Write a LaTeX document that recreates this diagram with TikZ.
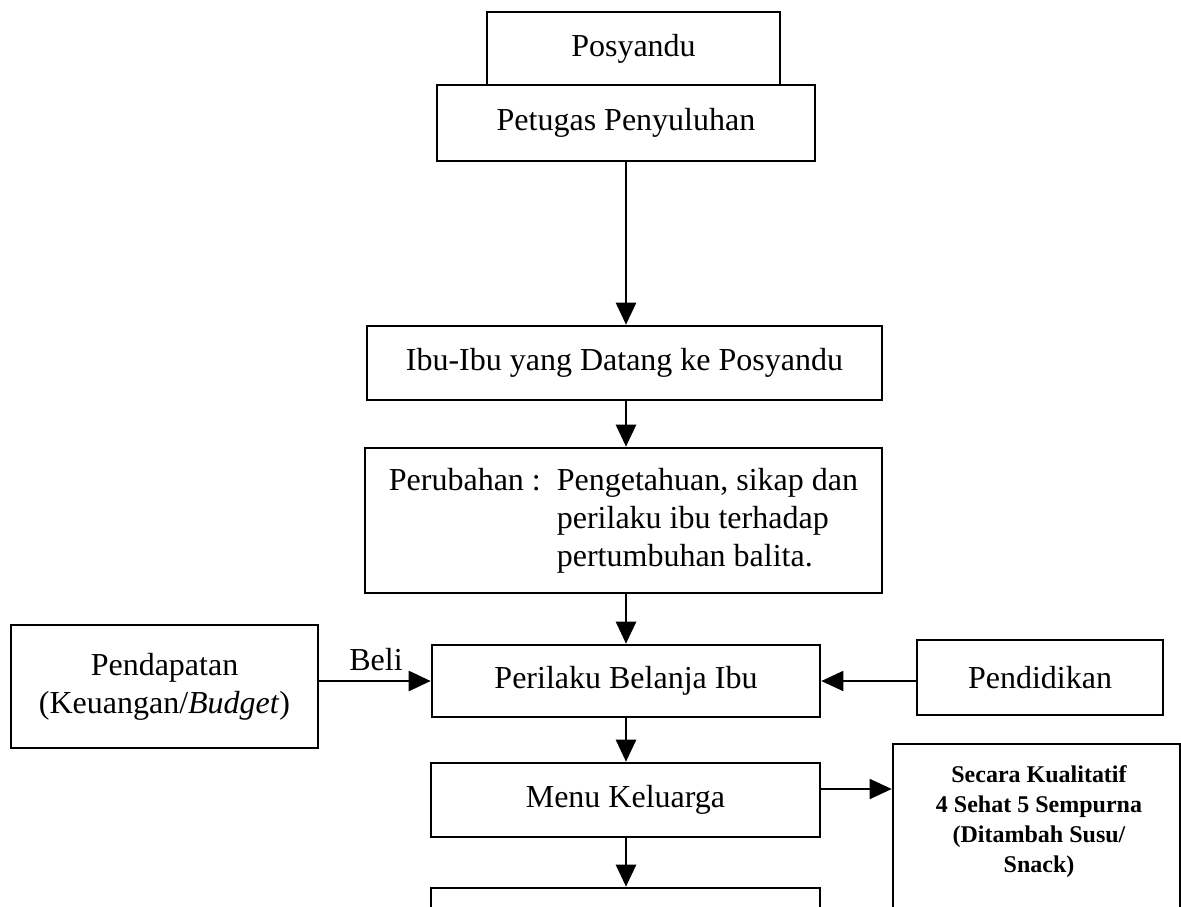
\documentclass[tikz,border=0pt]{standalone}
\usepackage{fontspec}
\setmainfont{Liberation Serif}
\usetikzlibrary{arrows.meta}
\begin{document}
\begin{tikzpicture}[x=1pt,y=-1pt,
  box/.style={draw, line width=2.6pt, inner sep=0pt, align=center, font=\fontsize{32}{38}\selectfont},
  lbl/.style={inner sep=0pt, align=center, font=\fontsize{32}{38}\selectfont},
  smalllbl/.style={inner sep=0pt, align=center, font=\bfseries\fontsize{24}{30}\selectfont},
  arr/.style={line width=2.6pt, -{Triangle[width=20pt,length=22pt]}},
  thinarr/.style={line width=1.8pt, -{Triangle[width=20pt,length=22pt]}}]
\useasboundingbox (0,0) rectangle (1181,907);
\clip (0,0) rectangle (1181,907);
\fill[white] (0,0) rectangle (1181,907);
% boxes
\node[box, minimum width=293pt, minimum height=73pt] (pos) at (633.5,48.5) {Posyandu};
\node[box, minimum width=378pt, minimum height=76pt] (pet) at (626,123) {Petugas Penyuluhan};
\node[box, minimum width=515pt, minimum height=74pt] (ibu) at (624.5,363) {Ibu-Ibu yang Datang ke Posyandu};
\node[box, minimum width=517pt, minimum height=145pt] (per) at (623.5,520.5)
  {\begin{tabular}{@{}l@{\hspace{16pt}}l@{}}Perubahan : & Pengetahuan, sikap dan\\ & perilaku ibu terhadap\\ & pertumbuhan balita.\end{tabular}};
\node[box, minimum width=388pt, minimum height=72pt] (bel) at (626,681) {Perilaku Belanja Ibu};
\node[box, minimum width=307pt, minimum height=123pt] (pen) at (164.5,686.5) {Pendapatan\\(Keuangan/\textit{Budget})};
\node[box, minimum width=246pt, minimum height=75pt] (pdk) at (1040,677.5) {Pendidikan};
\node[box, minimum width=389pt, minimum height=74pt] (menu) at (625.5,800) {Menu Keluarga};
\node[box, minimum width=287pt, minimum height=176pt] (sec) at (1036.5,832) {};
\node[smalllbl] (sectext) at (1039,822) {Secara Kualitatif\\4 Sehat 5 Sempurna\\(Ditambah Susu/\\Snack)};
\node[box, minimum width=389pt, minimum height=52pt] (out) at (625.5,914) {};
\node[lbl] (beli) at (376,660) {Beli};
\coordinate (mstart) at ([yshift=11pt]menu.east);
% connectors
\draw[arr] (pet.south) -- (pet.south |- ibu.north);
\draw[arr] (pet.south |- ibu.south) -- (pet.south |- per.north);
\draw[arr] (pet.south |- per.south) -- (bel.north);
\draw[arr] (bel.south) -- (bel.south |- menu.north);
\draw[arr] (bel.south |- menu.south) -- (bel.south |- out.north);
\draw[arr] (pen.east |- bel.west) -- (bel.west);
\draw[thinarr] (pdk.west |- bel.east) -- (bel.east);
\draw[thinarr] (mstart) -- (sec.west |- mstart);
\end{tikzpicture}
\end{document}
